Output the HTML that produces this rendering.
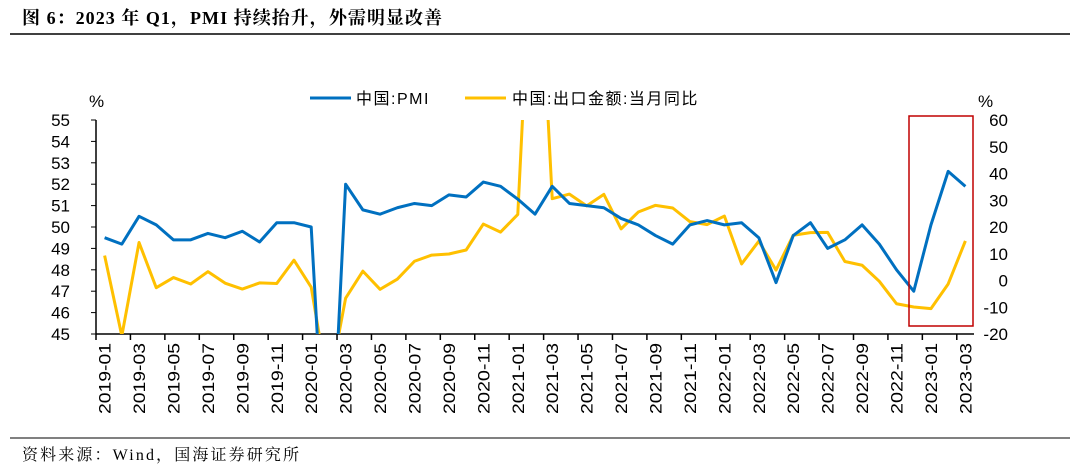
<!DOCTYPE html>
<html><head><meta charset="utf-8"><style>
html,body{margin:0;background:#fff;width:1080px;height:471px;overflow:hidden;}
svg{display:block;}
svg text{font-family:"Liberation Sans","Noto Sans CJK SC",sans-serif;}
</style></head><body>
<svg id="c" width="1080" height="471" xmlns="http://www.w3.org/2000/svg">
<text x="22" y="24" font-size="18" font-weight="bold" textLength="420" style="font-family:'Liberation Serif','Noto Serif CJK SC',serif">图 6：2023 年 Q1，PMI 持续抬升，外需明显改善</text>
<line x1="10" y1="34" x2="1070" y2="34" stroke="#000" stroke-width="1.5"/>
<line x1="10" y1="438" x2="1070" y2="438" stroke="#000" stroke-width="1"/>
<text x="22" y="460" font-size="16" textLength="277" style="font-family:'Liberation Serif','Noto Serif CJK SC',serif">资料来源：Wind，国海证券研究所</text>
<text x="89" y="107" font-size="17">%</text>
<text x="978" y="107" font-size="17">%</text>
<g>
<line x1="310" y1="98" x2="351" y2="98" stroke="#0070C0" stroke-width="3"/>
<text x="356" y="104" font-size="16" letter-spacing="1.5">中国:PMI</text>
<line x1="465" y1="98" x2="506" y2="98" stroke="#FFC000" stroke-width="3"/>
<text x="512" y="104" font-size="16" letter-spacing="1.5">中国:出口金额:当月同比</text>
</g>
<defs><clipPath id="pc"><rect x="96" y="120" width="878" height="214"/></clipPath></defs>
<g id="axes"></g>
<g id="marks" clip-path="url(#pc)"></g>
<rect x="909" y="116" width="64" height="210" fill="none" stroke="#C00000" stroke-width="1.5"/>
</svg>
<script>
const pmi=[49.5,49.2,50.5,50.1,49.4,49.4,49.7,49.5,49.8,49.3,50.2,50.2,
50.0,35.7,52.0,50.8,50.6,50.9,51.1,51.0,51.5,51.4,52.1,51.9,
51.3,50.6,51.9,51.1,51.0,50.9,50.4,50.1,49.6,49.2,50.1,50.3,
50.1,50.2,49.5,47.4,49.6,50.2,49.0,49.4,50.1,49.2,48.0,47.0,
50.1,52.6,51.9];
const exportYoY=[9.3,-20.7,14.2,-2.7,1.1,-1.3,3.3,-1.0,-3.2,-0.9,-1.1,7.6,
-2.5,-40.6,-6.6,3.5,-3.3,0.5,7.2,9.5,9.9,11.4,21.1,18.1,
24.7,154.9,30.6,32.3,27.9,32.2,19.3,25.6,28.1,27.1,22.0,20.9,
24.1,6.2,14.7,3.9,16.9,17.9,18.0,7.1,5.7,-0.3,-8.7,-9.9,
-10.5,-1.3,14.8];
const categories=[];for(let y=2019;y<=2023;y++)for(let m=1;m<=12;m++){if(y===2023&&m>3)break;categories.push(y+'-'+String(m).padStart(2,'0'));}
const leftTicks=[45,46,47,48,49,50,51,52,53,54,55];
const rightTicks=[-20,-10,0,10,20,30,40,50,60];
const X0=96,X1=974,YT=120,YB=334,N=categories.length,bw=(X1-X0)/N;
const xs=i=>X0+bw*(i+0.5);
const yl=v=>YB-(v-45)/10*(YB-YT);
const yr=v=>YB-(v+20)/80*(YB-YT);
const NS='http://www.w3.org/2000/svg';
const ax=document.getElementById('axes'),mk=document.getElementById('marks');
function mk_(t,a,p){const e=document.createElementNS(NS,t);for(const k in a)e.setAttribute(k,a[k]);p.appendChild(e);return e;}
let e=mk_('line',{x1:X0,y1:YT,x2:X0,y2:YB,stroke:'#000','stroke-width':1.5},ax);


e=mk_('line',{x1:X0,y1:YB,x2:X1,y2:YB,stroke:'#000','stroke-width':1.5},ax);


leftTicks.forEach(v=>{
 const t=mk_('line',{x1:X0-5,y1:yl(v),x2:X0,y2:yl(v),stroke:'#000'},ax);
 
 
 const l=mk_('text',{x:70,y:yl(v)+6,'font-size':17,'text-anchor':'end'},ax);l.textContent=v;
 
 
});
rightTicks.forEach(v=>{
 const l=mk_('text',{x:1008,y:yr(v)+6,'font-size':17,'text-anchor':'end'},ax);l.textContent=v;
 
 
});
for(let i=0;i<=N;i+=2){
 const t=mk_('line',{x1:X0+bw*i,y1:YB,x2:X0+bw*i,y2:YB+6,stroke:'#000','stroke-width':1.5},ax);
 
 
}
categories.forEach((c,i)=>{if(i%2)return;
 const x=xs(i)+6,y=343;
 const l=mk_('text',{x:x,y:y,'font-size':17,'text-anchor':'end',textLength:71,lengthAdjust:'spacingAndGlyphs',transform:`rotate(-90 ${x} ${y})`},ax);l.textContent=c;
 
 
});
let p=mk_('polyline',{points:exportYoY.map((v,i)=>xs(i)+','+yr(v)).join(' '),fill:'none',stroke:'#FFC000','stroke-width':3,'stroke-linejoin':'round'},mk);


p=mk_('polyline',{points:pmi.map((v,i)=>xs(i)+','+yl(v)).join(' '),fill:'none',stroke:'#0070C0','stroke-width':3,'stroke-linejoin':'round'},mk);


</script>
</body></html>
